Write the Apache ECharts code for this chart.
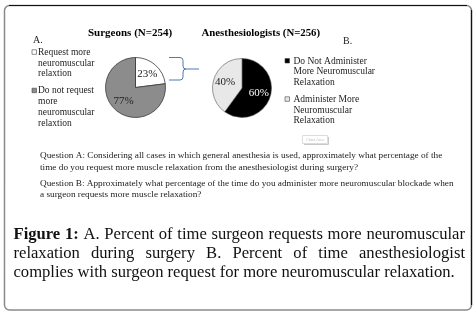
<!DOCTYPE html>
<html><head><meta charset="utf-8">
<script src="https://cdn.jsdelivr.net/npm/echarts@6/dist/echarts.min.js"></script>
<style>html,body{margin:0;padding:0;background:#fff}#c{width:476px;height:313px}</style>
</head><body><div id="c"></div>
<script>
// ---- data ----
const surgeonTitle = 'Surgeons (N=254)';
const anesTitle = 'Anesthesiologists (N=256)';
const surgeonCats = ['Request more neuromuscular relaxtion', 'Do not request more neuromuscular relaxtion'];
const surgeonVals = [23, 77];
const anesCats = ['Do Not Administer More Neuromuscular Relaxation', 'Administer More Neuromuscular Relaxation'];
const anesVals = [60, 40];
const surgeonLegendLines = [['Request more', 'neuromuscular', 'relaxtion'], ['Do not request', 'more', 'neuromuscular', 'relaxtion']];
const anesLegendLines = [['Do Not Administer', 'More Neuromuscular', 'Relaxation'], ['Administer More', 'Neuromuscular', 'Relaxation']];
const questionLines = [
  'Question A: Considering all cases in which general anesthesia is used, approximately what percentage of the',
  'time do you request more muscle relaxation from the anesthesiologist during surgery?',
  'Question B: Approximately what percentage of the time do you administer more neuromuscular blockade when',
  'a surgeon requests more muscle relaxation?'
];
const captionBold = 'Figure 1:';
const captionLines = [
  'Figure 1: A. Percent of time surgeon requests more neuromuscular',
  'relaxation during surgery B. Percent of time anesthesiologist',
  'complies with surgeon request for more neuromuscular relaxation.'
];

// ---- styles ----
const serif = '"Liberation Serif", "Times New Roman", serif';
const surgeonColors = ['#ffffff', '#8c8c8c'];
const anesColors = ['#000000', '#e8e8e8'];

const chart = echarts.init(document.getElementById('c'), null, {renderer: 'canvas'});
const g = [];

// frame
g.push({type: 'rect', shape: {x: 4.5, y: 5.5, width: 467, height: 304.5, r: 5}, style: {fill: 'none', stroke: '#8a8a8a', lineWidth: 1.5}});
g.push({type: 'polyline', shape: {points: [[9, 5.5], [467, 5.5]]}, style: {stroke: '#111', lineWidth: 1.2}});
g.push({type: 'polyline', shape: {points: [[471.5, 10], [471.5, 305]]}, style: {stroke: '#111', lineWidth: 1.2}});

function txt(x, y, text, opts) {
  g.push({type: 'text', x: x, y: y, style: Object.assign({text: text, font: '9.5px ' + serif, fill: '#222', textAlign: 'left', textVerticalAlign: 'middle'}, opts || {})});
}
// titles
txt(88, 33.5, surgeonTitle, {font: 'bold 11px ' + serif, fill: '#000'});
txt(201.5, 33.5, anesTitle, {font: 'bold 10.8px ' + serif, fill: '#000'});
txt(33, 40.5, 'A.', {font: '10px ' + serif});
txt(343, 41, 'B.', {font: '10px ' + serif});

// legends
function legend(x, ys, lines, colors, off) {
  lines.forEach((ls, i) => {
    g.push({type: 'rect', shape: {x: x, y: ys[i] - 2.5, width: 4.5, height: 4.5}, style: {fill: colors[i], stroke: '#444', lineWidth: 0.6}});
    ls.forEach((l, j) => txt(x + off, ys[i] + j * 10.8, l));
  });
}
legend(32, [52.3, 90.7], surgeonLegendLines, surgeonColors, 6);
legend(285, [61, 99.3], anesLegendLines, anesColors, 8.5);

// brace
const braceStyle = {fill: 'none', stroke: '#4f79b5', lineWidth: 1};
g.push({type: 'polyline', shape: {points: [[169, 57.5], [180, 57.5]]}, style: braceStyle});
g.push({type: 'bezierCurve', shape: {x1: 180, y1: 57.5, x2: 183, y2: 60.5, cpx1: 183, cpy1: 57.5}, style: braceStyle});
g.push({type: 'polyline', shape: {points: [[183, 60.5], [183, 66]]}, style: braceStyle});
g.push({type: 'bezierCurve', shape: {x1: 183, y1: 66, x2: 186, y2: 69, cpx1: 183, cpy1: 69}, style: braceStyle});
g.push({type: 'bezierCurve', shape: {x1: 186, y1: 69, x2: 183, y2: 72, cpx1: 183, cpy1: 69}, style: braceStyle});
g.push({type: 'polyline', shape: {points: [[183, 72], [183, 77]]}, style: braceStyle});
g.push({type: 'bezierCurve', shape: {x1: 183, y1: 77, x2: 180, y2: 80, cpx1: 183, cpy1: 80}, style: braceStyle});
g.push({type: 'polyline', shape: {points: [[180, 80], [169, 80]]}, style: braceStyle});
g.push({type: 'polyline', shape: {points: [[186, 69], [199, 69]]}, style: braceStyle});

// chart area button
g.push({type: 'rect', shape: {x: 302.5, y: 135.5, width: 25, height: 8}, style: {fill: '#fff', stroke: '#dcdcdc', lineWidth: 1}});
g.push({type: 'polyline', shape: {points: [[328.5, 137], [328.5, 144.5], [304, 144.5]]}, style: {stroke: '#c8c8c8', lineWidth: 1}});
txt(315, 139.5, 'Chart Area', {font: '4px ' + serif, fill: '#bbb', textAlign: 'center'});

// questions
const qy = [156, 167.5, 183.5, 194.5];
questionLines.forEach((l, i) => txt(40, qy[i], l, {font: '9.25px ' + serif, fill: '#222'}));

// caption with justification
const capSize = 16.6;
const ctx = document.createElement('canvas').getContext('2d');
function measure(t, bold) { ctx.font = (bold ? 'bold ' : '') + capSize + 'px ' + serif; return ctx.measureText(t).width; }
const capX0 = 13.5, capX1 = 465, capY = [235, 254, 273];
captionLines.forEach((line, li) => {
  const words = line.split(' ');
  const boldCount = li === 0 ? captionBold.split(' ').length : 0;
  const widths = words.map((w, k) => measure(w, k < boldCount));
  const sum = widths.reduce((a, b) => a + b, 0);
  const justify = li < captionLines.length - 1;
  const gap = justify ? (capX1 - capX0 - sum) / (words.length - 1) : measure(' ', false);
  let x = capX0;
  words.forEach((w, k) => {
    txt(x, capY[li], w, {font: (k < boldCount ? 'bold ' : '') + capSize + 'px ' + serif, fill: '#111'});
    x += widths[k] + gap;
  });
});

const labelBase = {show: true, position: 'inside', formatter: '{d}%', fontFamily: serif, fontSize: 11};
chart.setOption({
  animation: false,
  series: [
    {
      type: 'pie', center: [135.5, 87.5], radius: 30, startAngle: 90, clockwise: true,
      silent: true, labelLine: {show: false},
      itemStyle: {borderColor: '#3a3a3a', borderWidth: 0.8},
      label: Object.assign({}, labelBase, {color: '#222'}),
      data: surgeonCats.map((n, i) => ({name: n, value: surgeonVals[i], itemStyle: {color: surgeonColors[i]}}))
    },
    {
      type: 'pie', center: [242, 88], radius: 29.5, startAngle: 90, clockwise: true,
      silent: true, labelLine: {show: false},
      itemStyle: {borderColor: '#555', borderWidth: 0.6},
      label: labelBase,
      data: anesCats.map((n, i) => ({name: n, value: anesVals[i], itemStyle: {color: anesColors[i]},
        label: {color: i === 0 ? '#fff' : '#222'}}))
    }
  ],
  graphic: {elements: g}
});
</script></body></html>
